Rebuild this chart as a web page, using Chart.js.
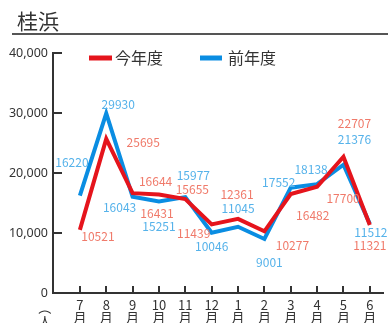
<!DOCTYPE html>
<html>
<head>
<meta charset="utf-8">
<script src="https://cdn.jsdelivr.net/npm/chart.js@4/dist/chart.umd.min.js"></script>
<style>
  body { margin: 0; background: #fff; }
  #wrap { width: 388px; height: 323px; position: relative; }
</style>
</head>
<body>
<div id="wrap"><canvas id="katsurahamaChart"></canvas></div>
<script>
const months = ['7', '8', '9', '10', '11', '12', '1', '2', '3', '4', '5', '6'];
const thisYear = [10521, 25695, 16644, 16431, 15655, 11439, 12361, 10277, 16482, 17700, 22707, 11321];
const lastYear = [16220, 29930, 16043, 15251, 15977, 10046, 11045, 9001, 17552, 18138, 21376, 11512];
const yTicks = [0, 10000, 20000, 30000, 40000];

// where each value label sits, relative to its point (px)
const thisYearLabelOffsets = [[18, 7], [37, 4], [23, -12], [-2, 19], [7, -10], [-18, 9], [-1, -24], [28, 14], [22, 21], [26, 12], [11, -33], [0, 20]];
const lastYearLabelOffsets = [[-8, -33], [12, -9], [-13, 11], [0, 25], [8, -22], [0, 14], [0, -18], [5, 23], [-12, -5], [-6, -15], [11, -25], [1, 9]];

const RED = '#e5141c';
const BLUE = '#0a8de2';
const FONT = '"Noto Sans CJK JP", "Noto Sans", sans-serif';

function toPoints(values) {
    return values.map((v, i) => ({ x: i, y: v }));
}

const decorations = {
    id: 'decorations',
    afterDraw(chart) {
        let ctx = chart.ctx;
        let area = chart.chartArea;
        let xs = chart.scales.x;
        let ys = chart.scales.y;
        ctx.save();

        // title + rule
        ctx.fillStyle = '#333';
        ctx.font = '21px ' + FONT;
        ctx.textBaseline = 'middle';
        ctx.textAlign = 'left';
        ctx.fillText('桂浜', 17, 21);
        ctx.strokeStyle = '#555';
        ctx.lineWidth = 2;
        ctx.beginPath();
        ctx.moveTo(12, 34);
        ctx.lineTo(388, 34);
        ctx.stroke();

        // legend
        ctx.lineWidth = 5;
        ctx.strokeStyle = RED;
        ctx.beginPath(); ctx.moveTo(89, 58); ctx.lineTo(112, 58); ctx.stroke();
        ctx.strokeStyle = BLUE;
        ctx.beginPath(); ctx.moveTo(200, 58); ctx.lineTo(222, 58); ctx.stroke();
        ctx.font = '16px ' + FONT;
        ctx.fillStyle = '#333';
        ctx.fillText('今年度', 115, 58);
        ctx.fillText('前年度', 228, 58);

        // inward tick marks
        ctx.strokeStyle = '#333';
        ctx.lineWidth = 2;
        yTicks.forEach(v => {
            let y = Math.round(ys.getPixelForValue(v));
            ctx.beginPath(); ctx.moveTo(area.left, y); ctx.lineTo(area.left + 9, y); ctx.stroke();
        });
        months.forEach((m, i) => {
            let x = Math.round(xs.getPixelForValue(i));
            ctx.beginPath(); ctx.moveTo(x, area.bottom); ctx.lineTo(x, area.bottom - 7); ctx.stroke();
        });

        // unit (人) written vertically
        ctx.font = '13px ' + FONT;
        ctx.textAlign = 'center';
        ctx.save();
        ctx.translate(45, 308);
        ctx.rotate(Math.PI / 2);
        ctx.fillText('（', 0, 0);
        ctx.restore();
        ctx.fillText('人', 45, 321);

        // value labels
        ctx.font = '12px ' + FONT;
        [[1, lastYearLabelOffsets, '#55b2ea'], [0, thisYearLabelOffsets, '#f07a6a']].forEach(([idx, offs, color]) => {
            let meta = chart.getDatasetMeta(idx);
            let values = chart.data.datasets[idx].data;
            ctx.fillStyle = color;
            meta.data.forEach((pt, i) => {
                ctx.fillText(String(values[i].y), pt.x + offs[i][0], pt.y + offs[i][1]);
            });
        });
        ctx.restore();
    }
};

let canvas = document.getElementById('katsurahamaChart').getContext('2d');
let chart = new Chart(canvas, {
    type: 'line',
    data: {
        datasets: [{
            label: '今年度',
            data: toPoints(thisYear),
            borderColor: RED,
            borderWidth: 4,
            pointRadius: 0,
            tension: 0
        }, {
            label: '前年度',
            data: toPoints(lastYear),
            borderColor: BLUE,
            borderWidth: 4,
            pointRadius: 0,
            tension: 0
        }]
    },
    options: {
        responsive: true,
        maintainAspectRatio: false,
        animation: false,
        layout: { padding: { top: 53, right: 5, left: 0, bottom: 0 } },
        plugins: { legend: { display: false }, tooltip: { enabled: false } },
        scales: {
            x: {
                type: 'linear',
                min: -1.02,
                max: 11.5,
                afterBuildTicks(scale) {
                    scale.ticks = months.map((m, i) => ({ value: i }));
                },
                afterFit(scale) { scale.height = 30; },
                grid: { display: false, drawTicks: false },
                border: { display: true, color: '#333', width: 2 },
                ticks: {
                    autoSkip: false,
                    maxRotation: 0,
                    padding: 6,
                    color: '#333',
                    font: { family: FONT, size: 13, lineHeight: 0.95 },
                    callback: v => [months[v], '月']
                }
            },
            y: {
                min: 0,
                max: 40000,
                afterBuildTicks(scale) {
                    scale.ticks = yTicks.map(v => ({ value: v }));
                },
                afterFit(scale) { scale.width = 53; },
                grid: { display: false, drawTicks: false },
                border: { display: true, color: '#333', width: 2 },
                ticks: {
                    padding: 5,
                    color: '#333',
                    font: { family: '"Noto Sans", sans-serif', size: 12.5 },
                    callback: v => v.toLocaleString('en-US')
                }
            }
        }
    },
    plugins: [decorations]
});
</script>
</body>
</html>
